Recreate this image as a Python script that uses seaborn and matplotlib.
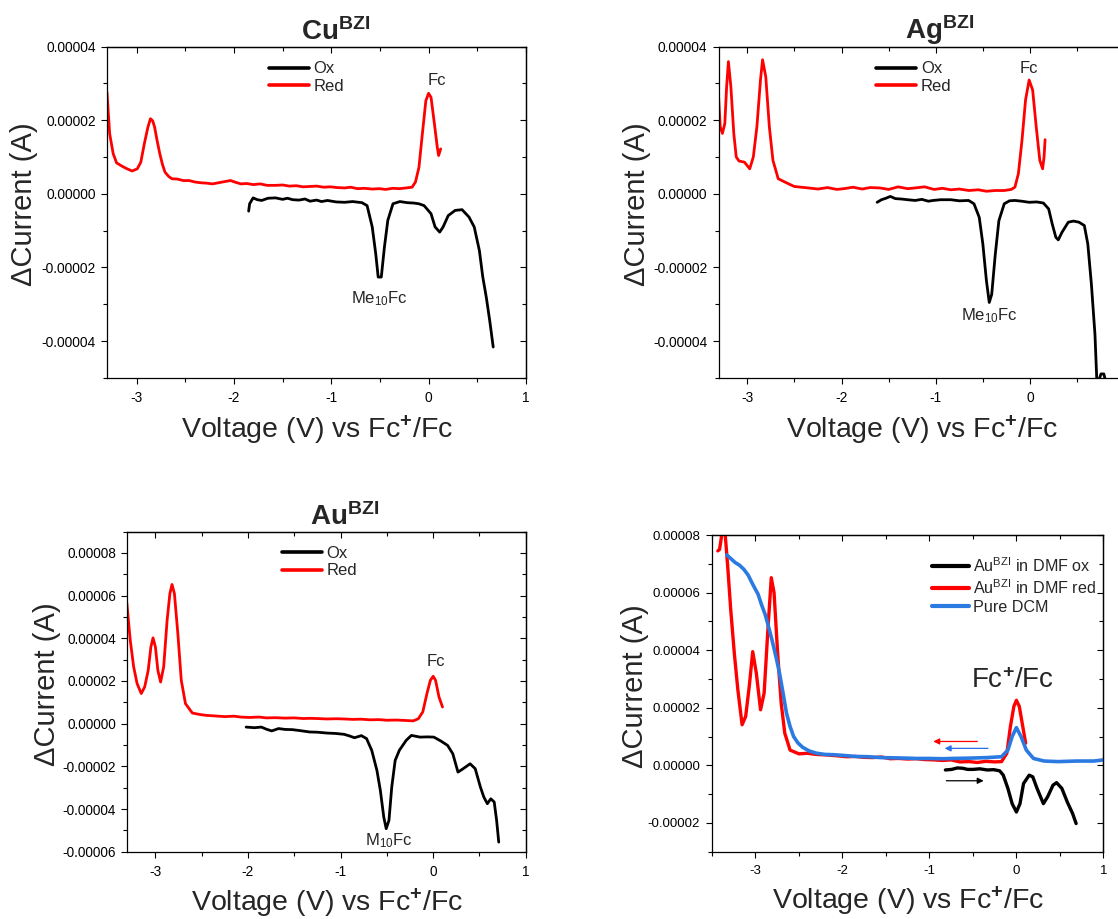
import numpy as np
import pandas as pd
import matplotlib
matplotlib.use("Agg")
import matplotlib.pyplot as plt
import seaborn as sns
from matplotlib.ticker import MultipleLocator, FormatStrFormatter, FixedLocator

# ---------------- data (voltage V vs Fc+/Fc, current in units of 1e-5 A) ----------------
cu_red = [(-3.305, 2.76), (-3.277, 1.63), (-3.241, 1.09), (-3.206, 0.84), (-3.15, 0.75), (-3.099, 0.68),
          (-3.046, 0.62), (-2.993, 0.68), (-2.957, 0.86), (-2.921, 1.36), (-2.885, 1.80), (-2.858, 2.04),
          (-2.835, 1.98), (-2.815, 1.81), (-2.79, 1.45), (-2.762, 1.09), (-2.735, 0.80), (-2.709, 0.59),
          (-2.67, 0.47), (-2.638, 0.41), (-2.58, 0.40), (-2.52, 0.36), (-2.46, 0.36), (-2.40, 0.32),
          (-2.34, 0.30), (-2.283, 0.29), (-2.22, 0.27), (-2.16, 0.30), (-2.10, 0.33), (-2.034, 0.36),
          (-1.98, 0.31), (-1.928, 0.27), (-1.87, 0.28), (-1.80, 0.25), (-1.73, 0.27), (-1.66, 0.23),
          (-1.573, 0.23), (-1.50, 0.24), (-1.43, 0.21), (-1.36, 0.22), (-1.29, 0.19), (-1.218, 0.20),
          (-1.15, 0.21), (-1.08, 0.18), (-1.01, 0.19), (-0.94, 0.17), (-0.863, 0.16), (-0.80, 0.18),
          (-0.73, 0.14), (-0.66, 0.15), (-0.58, 0.13), (-0.508, 0.14), (-0.44, 0.12), (-0.37, 0.15),
          (-0.30, 0.14), (-0.23, 0.16), (-0.170, 0.18), (-0.135, 0.32), (-0.099, 0.72), (-0.064, 1.63),
          (-0.028, 2.53), (0.0, 2.73), (0.025, 2.62), (0.060, 1.90), (0.089, 1.27), (0.103, 1.04),
          (0.124, 1.22)]
cu_ox = [(-1.849, -0.47), (-1.839, -0.27), (-1.803, -0.11), (-1.76, -0.16), (-1.715, -0.18), (-1.65, -0.12),
         (-1.573, -0.11), (-1.50, -0.15), (-1.45, -0.12), (-1.395, -0.16), (-1.33, -0.17), (-1.27, -0.14),
         (-1.218, -0.20), (-1.15, -0.17), (-1.10, -0.21), (-1.040, -0.18), (-0.95, -0.22), (-0.863, -0.23),
         (-0.78, -0.21), (-0.685, -0.24), (-0.632, -0.32), (-0.579, -0.90), (-0.543, -1.63), (-0.518, -2.26),
         (-0.486, -2.26), (-0.454, -1.45), (-0.419, -0.72), (-0.366, -0.27), (-0.295, -0.21), (-0.22, -0.24),
         (-0.153, -0.25), (-0.10, -0.27), (-0.046, -0.32), (0.025, -0.54), (0.067, -0.90), (0.114, -1.04),
         (0.149, -0.90), (0.202, -0.59), (0.273, -0.45), (0.344, -0.43), (0.415, -0.63), (0.469, -0.90),
         (0.522, -1.54), (0.557, -2.26), (0.593, -2.81), (0.628, -3.44), (0.664, -4.16)]

ag_red = [(-3.306, 2.73), (-3.287, 1.82), (-3.264, 1.64), (-3.238, 1.91), (-3.219, 2.91), (-3.2, 3.59),
          (-3.174, 2.91), (-3.143, 1.64), (-3.117, 1.0), (-3.087, 0.89), (-3.030, 0.86), (-2.974, 0.68),
          (-2.936, 1.0), (-2.898, 1.82), (-2.860, 3.09), (-2.838, 3.64), (-2.804, 3.18), (-2.766, 1.82),
          (-2.728, 0.91), (-2.672, 0.41), (-2.577, 0.29), (-2.502, 0.20), (-2.43, 0.18), (-2.351, 0.16),
          (-2.25, 0.13), (-2.15, 0.17), (-2.05, 0.12), (-1.974, 0.14), (-1.88, 0.18), (-1.78, 0.13),
          (-1.70, 0.17), (-1.596, 0.16), (-1.50, 0.12), (-1.40, 0.19), (-1.30, 0.14), (-1.219, 0.16),
          (-1.12, 0.19), (-1.02, 0.12), (-0.93, 0.15), (-0.842, 0.11), (-0.75, 0.13), (-0.65, 0.09),
          (-0.55, 0.11), (-0.464, 0.07), (-0.37, 0.09), (-0.275, 0.09), (-0.20, 0.12), (-0.162, 0.18),
          (-0.125, 0.55), (-0.087, 1.45), (-0.049, 2.55), (-0.011, 3.09), (0.026, 2.82), (0.064, 1.82),
          (0.102, 0.91), (0.132, 0.68), (0.147, 1.0), (0.158, 1.47)]
ag_ox = [(-1.623, -0.23), (-1.577, -0.16), (-1.53, -0.12), (-1.483, -0.07), (-1.43, -0.13), (-1.370, -0.14),
         (-1.30, -0.16), (-1.219, -0.18), (-1.15, -0.15), (-1.08, -0.20), (-1.030, -0.18), (-0.95, -0.16),
         (-0.842, -0.16), (-0.75, -0.19), (-0.653, -0.18), (-0.596, -0.27), (-0.540, -0.64), (-0.502, -1.36),
         (-0.464, -2.36), (-0.434, -2.95), (-0.408, -2.73), (-0.370, -1.64), (-0.332, -0.73), (-0.275, -0.27),
         (-0.22, -0.19), (-0.162, -0.18), (-0.09, -0.20), (-0.011, -0.23), (0.07, -0.22), (0.140, -0.25),
         (0.196, -0.41), (0.234, -0.82), (0.272, -1.18), (0.298, -1.25), (0.336, -1.05), (0.404, -0.77),
         (0.46, -0.74), (0.517, -0.77), (0.574, -0.86), (0.611, -1.36), (0.649, -2.45), (0.687, -3.82),
         (0.706, -5.03), (0.725, -5.09), (0.751, -4.89), (0.781, -4.89), (0.800, -5.09)]

au_red = [(-3.307, 5.66), (-3.270, 3.91), (-3.233, 2.66), (-3.196, 1.88), (-3.151, 1.41), (-3.114, 1.72),
          (-3.076, 2.5), (-3.047, 3.59), (-3.024, 4.02), (-2.998, 3.59), (-2.972, 2.5), (-2.942, 1.95),
          (-2.909, 2.66), (-2.872, 4.84), (-2.842, 6.09), (-2.819, 6.52), (-2.793, 6.09), (-2.756, 4.22),
          (-2.719, 2.03), (-2.674, 0.94), (-2.600, 0.50), (-2.52, 0.43), (-2.451, 0.39), (-2.35, 0.36),
          (-2.25, 0.33), (-2.15, 0.35), (-2.078, 0.31), (-1.98, 0.29), (-1.88, 0.31), (-1.80, 0.27),
          (-1.706, 0.28), (-1.60, 0.26), (-1.50, 0.27), (-1.40, 0.24), (-1.333, 0.25), (-1.25, 0.24),
          (-1.15, 0.22), (-1.05, 0.23), (-0.961, 0.22), (-0.87, 0.20), (-0.78, 0.21), (-0.68, 0.18),
          (-0.588, 0.19), (-0.50, 0.16), (-0.40, 0.17), (-0.30, 0.15), (-0.216, 0.13), (-0.160, 0.23),
          (-0.112, 0.55), (-0.067, 1.41), (-0.030, 2.03), (0.0, 2.22), (0.026, 2.03), (0.063, 1.25),
          (0.101, 0.78)]
au_ox = [(-2.019, -0.16), (-1.929, -0.19), (-1.855, -0.16), (-1.80, -0.26), (-1.743, -0.34), (-1.669, -0.23),
         (-1.60, -0.27), (-1.520, -0.28), (-1.43, -0.33), (-1.333, -0.39), (-1.25, -0.40), (-1.147, -0.44),
         (-1.05, -0.46), (-0.961, -0.50), (-0.90, -0.58), (-0.849, -0.66), (-0.775, -0.56), (-0.719, -0.70),
         (-0.663, -1.25), (-0.607, -2.19), (-0.570, -3.13), (-0.533, -4.38), (-0.507, -4.92), (-0.477, -4.53),
         (-0.447, -2.97), (-0.410, -1.72), (-0.365, -1.25), (-0.291, -0.78), (-0.235, -0.55), (-0.142, -0.63),
         (-0.06, -0.62), (0.007, -0.63), (0.082, -0.81), (0.156, -1.02), (0.212, -1.41), (0.268, -2.27),
         (0.324, -2.11), (0.399, -1.88), (0.454, -2.11), (0.510, -2.97), (0.547, -3.44), (0.585, -3.75),
         (0.622, -3.52), (0.659, -3.67), (0.685, -4.53), (0.708, -5.55)]

dmf_red = [(-3.43, 7.45), (-3.41, 7.50), (-3.39, 7.90), (-3.375, 8.50), (-3.36, 8.60), (-3.345, 8.00),
           (-3.335, 7.63), (-3.314, 6.81), (-3.282, 5.42), (-3.241, 3.91), (-3.2, 2.63), (-3.151, 1.41),
           (-3.110, 1.70), (-3.069, 2.74), (-3.029, 3.95), (-2.988, 3.21), (-2.939, 1.93), (-2.898, 2.51),
           (-2.857, 4.60), (-2.816, 6.52), (-2.784, 6.0), (-2.743, 3.91), (-2.702, 2.16), (-2.661, 1.12),
           (-2.6, 0.53), (-2.498, 0.40), (-2.40, 0.42), (-2.30, 0.38), (-2.171, 0.36), (-2.05, 0.33),
           (-1.95, 0.30), (-1.85, 0.31), (-1.763, 0.28), (-1.65, 0.27), (-1.55, 0.29), (-1.45, 0.23),
           (-1.355, 0.24), (-1.25, 0.22), (-1.15, 0.23), (-1.05, 0.20), (-0.947, 0.19), (-0.85, 0.17),
           (-0.75, 0.19), (-0.65, 0.12), (-0.539, 0.13), (-0.45, 0.10), (-0.35, 0.14), (-0.25, 0.12),
           (-0.171, 0.13), (-0.110, 0.42), (-0.069, 1.35), (-0.029, 2.05), (0.0, 2.26), (0.033, 2.05),
           (0.073, 1.35), (0.106, 0.77)]
dmf_ox = [(-0.816, -0.16), (-0.743, -0.14), (-0.68, -0.09), (-0.620, -0.10), (-0.56, -0.14), (-0.498, -0.14),
          (-0.42, -0.12), (-0.335, -0.16), (-0.26, -0.15), (-0.192, -0.19), (-0.151, -0.34), (-0.098, -0.80),
          (-0.049, -1.33), (0.0, -1.62), (0.041, -1.33), (0.082, -0.63), (0.147, -0.34), (0.188, -0.40),
          (0.237, -0.80), (0.310, -1.33), (0.359, -1.09), (0.420, -0.69), (0.461, -0.60), (0.522, -0.80),
          (0.584, -1.27), (0.645, -1.67), (0.686, -2.02)]
dcm = [(-3.327, 7.31), (-3.28, 7.18), (-3.233, 7.05), (-3.18, 6.95), (-3.131, 6.81), (-3.08, 6.6),
       (-3.029, 6.29), (-2.967, 5.94), (-2.93, 5.6), (-2.886, 5.24), (-2.85, 4.85), (-2.804, 4.31),
       (-2.76, 3.75), (-2.722, 3.21), (-2.68, 2.5), (-2.641, 1.81), (-2.60, 1.35), (-2.559, 1.0),
       (-2.51, 0.78), (-2.457, 0.63), (-2.38, 0.50), (-2.294, 0.42), (-2.20, 0.38), (-2.10, 0.37),
       (-1.967, 0.34), (-1.85, 0.31), (-1.70, 0.30), (-1.559, 0.27), (-1.40, 0.26), (-1.25, 0.25),
       (-1.151, 0.24), (-1.0, 0.24), (-0.85, 0.23), (-0.743, 0.24), (-0.55, 0.25), (-0.335, 0.27),
       (-0.171, 0.30), (-0.098, 0.53), (-0.049, 1.0), (0.0, 1.31), (0.053, 1.0), (0.114, 0.53),
       (0.196, 0.24), (0.318, 0.15), (0.482, 0.13), (0.686, 0.15), (0.890, 0.15), (1.0, 0.19)]

titles = [r"Cu$^{\mathbf{BZI}}$", r"Ag$^{\mathbf{BZI}}$", r"Au$^{\mathbf{BZI}}$"]
legend_ox_red = ["Ox", "Red"]
legend_dmf = [r"Au$^{\mathregular{BZI}}$ in DMF ox", r"Au$^{\mathregular{BZI}}$ in DMF red", "Pure DCM"]
ag_visible_xticks = [-3, -2, -1, 0]
arrow_tail_v = [-0.449, -0.327, -0.804]
arrow_head_v = [-0.955, -0.824, -0.376]
arrow_i = [0.83, 0.59, -0.535]
arrow_colors = ["#FF0000", "#2A6FE8", "#000000"]

RED = "#FF0000"
BLACK = "#000000"
BLUE = "#2A7AE2"
SCALE = 1e-5
XLABEL = r"Voltage (V) vs Fc$^{\mathbf{+}}$/Fc"


def frame(pairs):
    df = pd.DataFrame(pairs, columns=["V", "I"])
    df["I"] = df["I"] * SCALE
    return df


# ---------------- style ----------------
sns.set_theme(style="ticks")
plt.rcParams.update({
    "font.family": ["Liberation Sans", "DejaVu Sans"],
    "mathtext.fontset": "custom",
    "mathtext.rm": "Liberation Sans",
    "mathtext.bf": "Liberation Sans:bold",
    "mathtext.it": "Liberation Sans:italic",
    "axes.unicode_minus": False,
    "axes.linewidth": 0.9,
    "axes.edgecolor": "black",
    "xtick.color": "black",
    "ytick.color": "black",
    "axes.facecolor": "white",
    "figure.facecolor": "white",
})

fig = plt.figure(figsize=(11.18, 9.19), dpi=100)
ax1 = fig.add_axes([0.0961, 0.5887, 0.3743, 0.3607])
ax2 = fig.add_axes([0.6431, 0.5887, 0.3627, 0.3607])
ax3 = fig.add_axes([0.1140, 0.0732, 0.3563, 0.3484])
ax4 = fig.add_axes([0.6366, 0.0732, 0.3504, 0.3446])


def style_axes(ax, xlim, ylim, tick_fs, ylab_xy, xlab_y):
    ax.set_xlim(*xlim)
    ax.set_ylim(*ylim)
    ax.xaxis.set_major_locator(MultipleLocator(1))
    ax.xaxis.set_minor_locator(MultipleLocator(0.5))
    ax.yaxis.set_major_locator(MultipleLocator(2e-5))
    ax.yaxis.set_minor_locator(MultipleLocator(1e-5))
    ax.yaxis.set_major_formatter(FormatStrFormatter("%.5f"))
    ax.xaxis.set_major_formatter(FormatStrFormatter("%g"))
    ax.tick_params(axis="both", which="major", direction="out", length=4.3, width=0.8,
                   labelsize=tick_fs, colors="black")
    ax.tick_params(axis="x", which="major", pad=5)
    ax.tick_params(axis="y", which="major", pad=4)
    ax.tick_params(axis="both", which="minor", direction="out", length=2.6, width=0.8)
    for s in ax.spines.values():
        s.set_color("black")
        s.set_linewidth(0.9)
    secx = ax.secondary_xaxis("top")
    secx.xaxis.set_major_locator(MultipleLocator(1))
    secx.xaxis.set_minor_locator(MultipleLocator(0.5))
    secx.tick_params(which="major", direction="in", length=4.3, width=0.8, labeltop=False)
    secx.tick_params(which="minor", direction="in", length=2.6, width=0.8)
    secy = ax.secondary_yaxis("right")
    secy.yaxis.set_major_locator(MultipleLocator(2e-5))
    secy.yaxis.set_minor_locator(MultipleLocator(1e-5))
    secy.tick_params(which="major", direction="in", length=4.3, width=0.8, labelright=False)
    secy.tick_params(which="minor", direction="in", length=2.6, width=0.8)
    ax.set_ylabel("\u0394Current (A)", fontsize=21, va="center")
    ax.yaxis.set_label_coords(*ylab_xy)
    ax.set_xlabel(XLABEL, fontsize=20.5, va="center")
    ax.xaxis.set_label_coords(0.5, xlab_y)
    ax.grid(False)


def ox_red_panel(ax, ox, red, title, fc_xy, me_xy, me_text, ylim, tick_fs, ylab_xy, xlab_y, leg_xy):
    d_ox = frame(ox)
    d_red = frame(red)
    sns.lineplot(data=d_ox, x="V", y="I", ax=ax, color=BLACK, lw=2.0, sort=False,
                 estimator=None, label=legend_ox_red[0])
    sns.lineplot(data=d_red, x="V", y="I", ax=ax, color=RED, lw=2.0, sort=False,
                 estimator=None, label=legend_ox_red[1])
    style_axes(ax, (-3.3, 1.0), ylim, tick_fs, ylab_xy, xlab_y)
    ax.set_title(title, fontsize=20, fontweight="bold", x=0.545, pad=5)
    leg = ax.legend(loc="upper left", bbox_to_anchor=leg_xy, frameon=False, fontsize=12,
                    borderpad=0, borderaxespad=0, handlelength=2.4, handletextpad=0.3,
                    labelspacing=0.15)
    for h in leg.get_lines():
        h.set_linewidth(2.6)
    ax.text(fc_xy[0], fc_xy[1] * SCALE, "Fc", ha="center", va="center", fontsize=12)
    ax.text(me_xy[0], me_xy[1] * SCALE, me_text, ha="center", va="center", fontsize=12)


ox_red_panel(ax1, cu_ox, cu_red, titles[0], (0.089, 3.09), (-0.508, -2.85), r"Me$_{10}$Fc",
             (-5e-5, 4e-5), 9.9, (-0.199, 0.524), -0.157, (0.385, 0.955))
ox_red_panel(ax2, ag_ox, ag_red, titles[1], (-0.011, 3.41), (-0.434, -3.32), r"Me$_{10}$Fc",
             (-5e-5, 4e-5), 9.9, (-0.203, 0.524), -0.157, (0.387, 0.955))
ox_red_panel(ax3, au_ox, au_red, titles[2], (0.026, 2.90), (-0.477, -5.49), r"M$_{10}$Fc",
             (-6e-5, 9e-5), 9.8, (-0.201, 0.524), -0.160, (0.387, 0.955))
# the Ag panel is cropped at the right edge: its "1" tick lies outside the figure
ax2.xaxis.set_major_locator(FixedLocator(ag_visible_xticks))

# ---------------- panel 4 ----------------
sns.lineplot(data=frame(dmf_ox), x="V", y="I", ax=ax4, color=BLACK, lw=2.4, sort=False,
             estimator=None, label=legend_dmf[0])
sns.lineplot(data=frame(dmf_red), x="V", y="I", ax=ax4, color=RED, lw=2.4, sort=False,
             estimator=None, label=legend_dmf[1])
sns.lineplot(data=frame(dcm), x="V", y="I", ax=ax4, color=BLUE, lw=2.6, sort=False,
             estimator=None, label=legend_dmf[2])
style_axes(ax4, (-3.5, 1.0), (-3e-5, 8e-5), 9.5, (-0.197, 0.524), -0.158)
leg4 = ax4.legend(loc="upper left", bbox_to_anchor=(0.562, 0.934), frameon=False, fontsize=11.6,
                  borderpad=0, borderaxespad=0, handlelength=2.3, handletextpad=0.25, labelspacing=0.2)
for h in leg4.get_lines():
    h.set_linewidth(3.0)
ax4.text(-0.049, 2.92 * SCALE, r"Fc$^{\mathbf{+}}$/Fc", ha="center", va="center", fontsize=20)
for tv, hv, iv, c in zip(arrow_tail_v, arrow_head_v, arrow_i, arrow_colors):
    ax4.annotate("", xy=(hv, iv * SCALE), xytext=(tv, iv * SCALE),
                 arrowprops=dict(arrowstyle="-|>", color=c, lw=0.9, mutation_scale=9,
                                 shrinkA=0, shrinkB=0))

fig.savefig("out.png", dpi=100)
